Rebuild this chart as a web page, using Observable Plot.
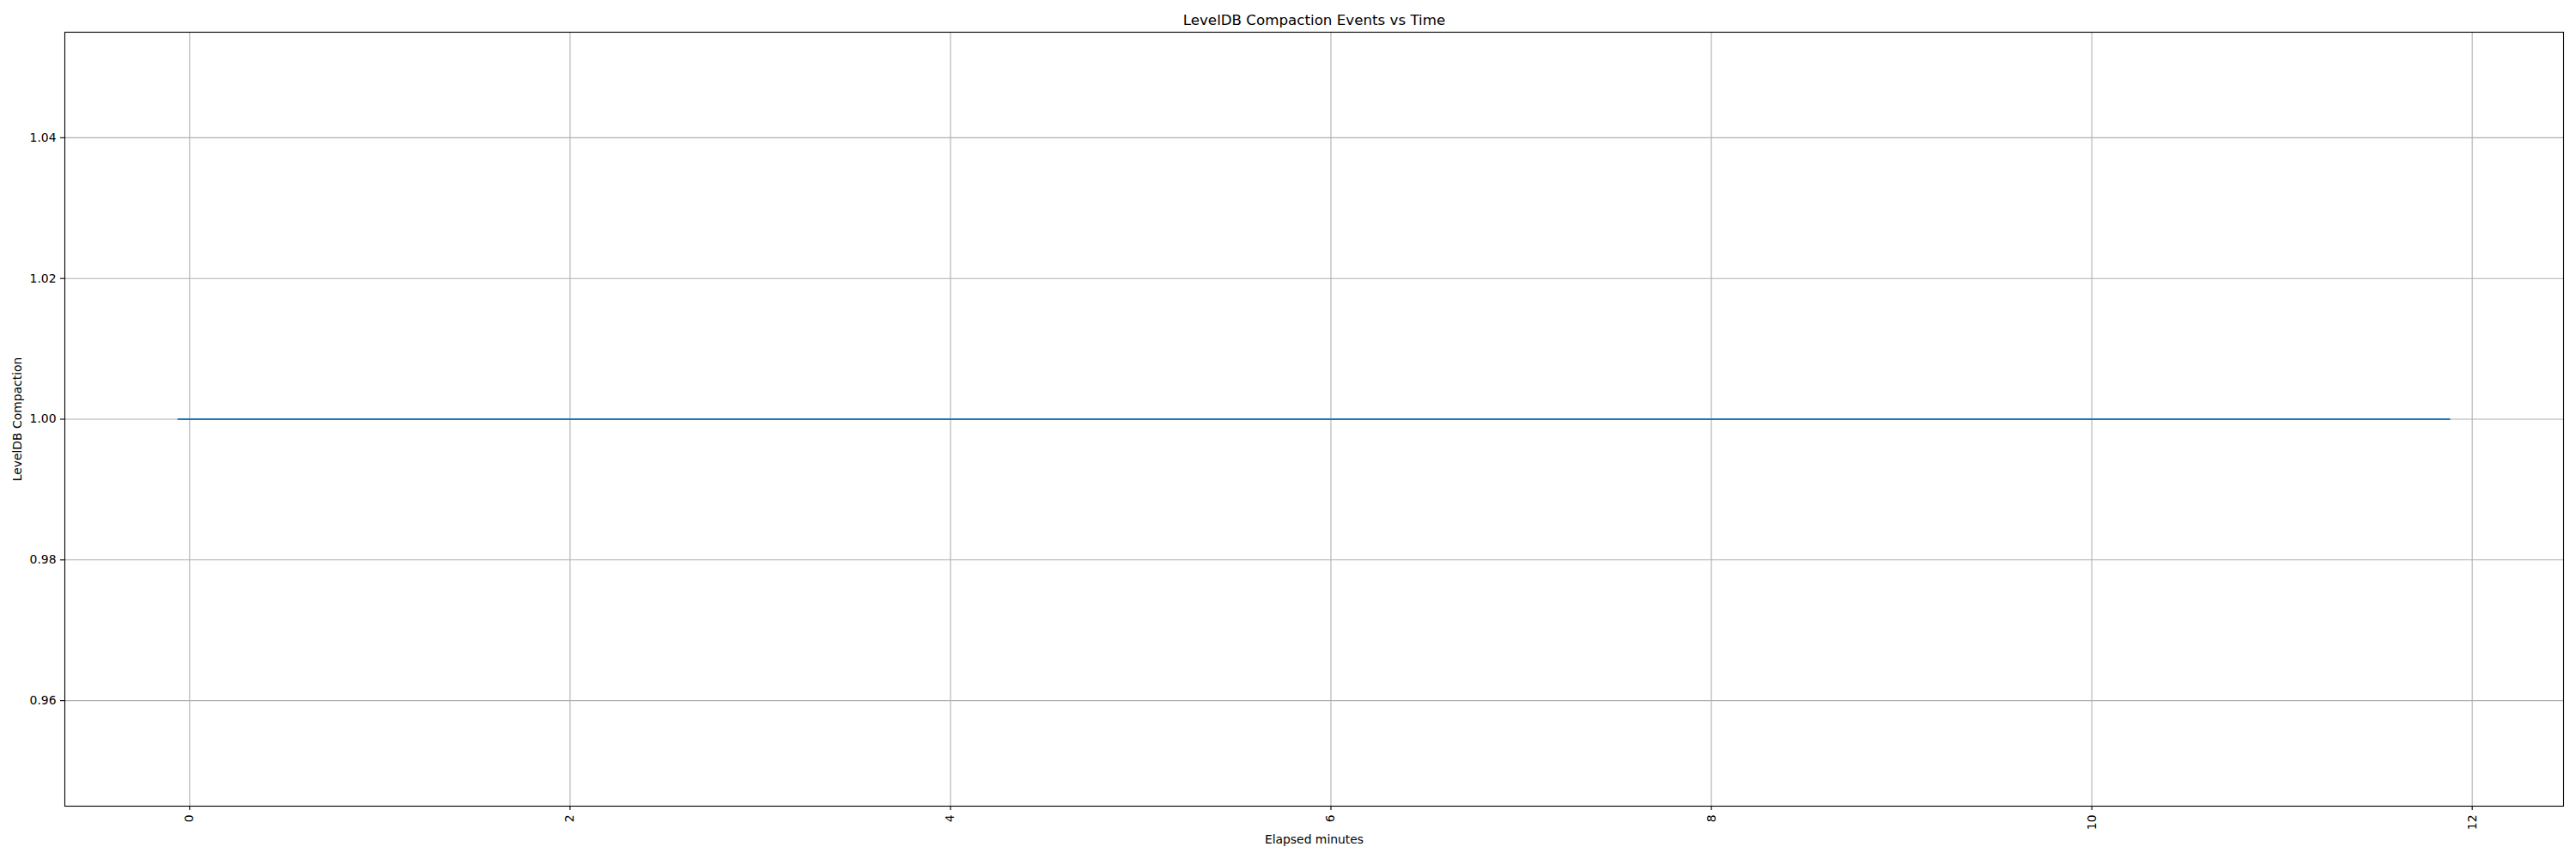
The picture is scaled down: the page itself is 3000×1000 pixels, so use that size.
<!DOCTYPE html>
<html>
<head>
<meta charset="utf-8">
<script src="https://cdn.jsdelivr.net/npm/d3@7"></script>
<script src="https://cdn.jsdelivr.net/npm/@observablehq/plot@0.6"></script>
<style>
  html, body { margin: 0; padding: 0; background: white; }
  svg { display: block; }
</style>
</head>
<body>
<div id="chart"></div>
<script>
// Data
const elapsedMinutes = [-0.06, 11.88];
const compactionValues = [1, 1];
const xTicks = [0, 2, 4, 6, 8, 10, 12];
const yTicks = [0.96, 0.98, 1.00, 1.02, 1.04];
const xDomain = [-0.656, 12.48];
const yDomain = [0.945, 1.055];
const titleText = "LevelDB Compaction Events vs Time";
const xLabelText = "Elapsed minutes";
const yLabelText = "LevelDB Compaction";

const data = elapsedMinutes.map((t, i) => ({t, v: compactionValues[i]}));

const chart = Plot.plot({
  width: 3000,
  height: 1000,
  marginLeft: 75,
  marginRight: 15,
  marginTop: 37,
  marginBottom: 62,
  style: {fontFamily: "DejaVu Sans", fontSize: "13.9px", background: "white", color: "black"},
  x: {domain: xDomain},
  y: {domain: yDomain},
  marks: [
    Plot.gridX(xTicks, {stroke: "#b0b0b0", strokeOpacity: 1, strokeWidth: 1.1}),
    Plot.gridY(yTicks, {stroke: "#b0b0b0", strokeOpacity: 1, strokeWidth: 1.1}),
    Plot.line(data, {x: "t", y: "v", stroke: "#1f77b4", strokeWidth: 2.1}),
    Plot.frame({stroke: "black", strokeWidth: 1.1}),
    Plot.axisX(xTicks, {anchor: "bottom", tickSize: 5, tickPadding: 5, tickRotate: -90, label: null, tickFormat: d => String(d), fontSize: 13.9, strokeWidth: 1.1}),
    Plot.axisY(yTicks, {anchor: "left", tickSize: 5, tickPadding: 5, label: null, tickFormat: d3.format(".2f"), fontSize: 13.9, strokeWidth: 1.1}),
    Plot.text([titleText], {frameAnchor: "top", dy: -14, lineAnchor: "middle", textAnchor: "middle", fontSize: 16.7, fill: "black"}),
    Plot.text([xLabelText], {frameAnchor: "bottom", dy: 39, lineAnchor: "middle", textAnchor: "middle", fontSize: 13.9, fill: "black"}),
    Plot.text([yLabelText], {frameAnchor: "left", dx: -55, rotate: -90, lineAnchor: "middle", textAnchor: "middle", fontSize: 13.9, fill: "black"})
  ]
});
document.getElementById("chart").appendChild(chart);
</script>
</body>
</html>
